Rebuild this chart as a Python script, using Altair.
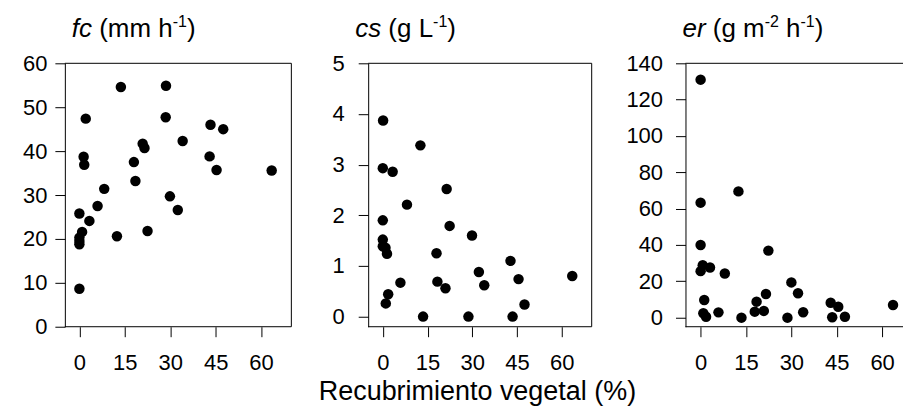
import altair as alt
import pandas as pd

# ---------------- data ----------------
fc_x = [13.7, 28.6, 2.1, 28.5, 43.3, 47.5, 34.1, 20.9, 21.5, 1.4, 1.6, 43.0, 18.0, 45.3,
        63.5, 18.5, 8.2, 29.9, 6.0, 32.5, 0.0, 3.3, 22.5, 0.9, 12.4, 0.0, 0.0, 0.0, 0.0]
fc_y = [54.6, 54.9, 47.4, 47.7, 46.0, 45.0, 42.3, 41.7, 40.7, 38.7, 36.9, 38.8, 37.5, 35.7,
        35.6, 33.2, 31.4, 29.7, 27.5, 26.6, 25.8, 24.1, 21.8, 21.6, 20.6, 20.3, 19.5, 18.8, 8.65]

cs_x = [0.1, 12.6, 0.0, 3.3, 21.4, 8.1, 0.0, 22.4, 29.9, 0.0, 0.0, 0.9, 1.4, 18.0, 42.8,
        32.2, 63.5, 45.5, 5.9, 18.3, 21.0, 34.0, 1.8, 1.0, 47.5, 13.5, 28.7, 43.5]
cs_y = [3.87, 3.38, 2.93, 2.86, 2.52, 2.21, 1.90, 1.79, 1.60, 1.52, 1.39, 1.36, 1.24, 1.25,
        1.10, 0.88, 0.80, 0.74, 0.67, 0.69, 0.56, 0.62, 0.44, 0.26, 0.24, 0.0, 0.0, 0.0]

er_x = [0.0, 12.5, 0.0, 0.0, 22.4, 0.7, 0.0, 3.1, 8.0, 1.2, 0.9, 1.8, 5.9, 13.5, 18.5,
        17.9, 20.9, 21.6, 28.7, 30.0, 32.2, 33.9, 43.0, 45.5, 43.5, 47.7, 63.6]
er_y = [131.0, 69.5, 63.3, 40.0, 36.9, 28.9, 25.6, 27.6, 24.3, 9.7, 2.4, 0.5, 2.9, 0.0, 8.8,
        3.3, 3.7, 13.0, 0.0, 19.4, 13.4, 3.0, 8.2, 6.0, 0.2, 0.5, 7.0]

x_ticks = [0, 15, 30, 45, 60]
fc_ticks = [0, 10, 20, 30, 40, 50, 60]
cs_ticks = [0, 1, 2, 3, 4, 5]
er_ticks = [0, 20, 40, 60, 80, 100, 120, 140]

x_title = "Recubrimiento vegetal (%)"
fc_title = [("fc", "italic"), (" (mm h", "normal"), ("-1", "sup"), (")", "normal")]
cs_title = [("cs", "italic"), (" (g L", "normal"), ("-1", "sup"), (")", "normal")]
er_title = [("er", "italic"), (" (g m", "normal"), ("-2", "sup"), (" h", "normal"),
            ("-1", "sup"), (")", "normal")]

# ---------------- styling ----------------
FONT = "Liberation Sans"
LAB = 22      # tick labels
TFS = 26      # panel titles
SUP = 16      # superscripts
XFS = 27      # x axis title
H = 264
ADV = {'f': 278, 'c': 500, 's': 500, 'e': 556, 'r': 333, ' ': 278, '(': 333, ')': 333,
       'm': 833, 'h': 556, 'g': 556, 'L': 556, '-': 333, '1': 556, '2': 556}


def text_width(s, size):
    return sum(ADV.get(ch, 556) for ch in s) * size / 1000.0


def title_layers(parts, x0, y0=-26):
    one = pd.DataFrame({"k": [0]})
    layers = []
    x = x0
    for txt, style in parts:
        size = SUP if style == "sup" else TFS
        dy = -10 if style == "sup" else 0
        lead = len(txt) - len(txt.lstrip(" "))
        x += text_width(" " * lead, size)
        body = txt.lstrip(" ")
        layers.append(
            alt.Chart(one).mark_text(
                text=body, font=FONT, fontSize=size, align="left", baseline="alphabetic",
                fontStyle="italic" if style == "italic" else "normal", color="black"
            ).encode(x=alt.value(x), y=alt.value(y0 + dy))
        )
        x += text_width(body, size)
    return layers


def panel(xs, ys, xdom, ydom, yticks, width, frame_w, parts, title_x, label_pad,
          right_frame=True, xtitle=None):
    df = pd.DataFrame({"x": xs, "y": ys})
    common = dict(values=x_ticks, tickSize=10, tickColor="black", domain=False, grid=False,
                  labelFont=FONT, labelFontSize=LAB, labelColor="black", labelPadding=16,
                  labelFlush=False)
    if xtitle:
        xaxis = alt.Axis(title=xtitle, titleFont=FONT, titleFontSize=XFS,
                         titleFontWeight="normal", titleColor="black", titleX=109, titleY=73,
                         titleAlign="center", titleBaseline="alphabetic", titleAnchor="start",
                         **common)
    else:
        xaxis = alt.Axis(title=None, **common)
    yaxis = alt.Axis(values=yticks, tickSize=10, tickColor="black", domain=True,
                     domainColor="black", grid=False, labelFont=FONT, labelFontSize=LAB,
                     labelColor="black", labelPadding=label_pad, title=None, labelFlush=False)
    pts = alt.Chart(df).mark_circle(size=110, color="black", opacity=1).encode(
        x=alt.X("x:Q", scale=alt.Scale(domain=xdom, nice=False, zero=False), axis=xaxis),
        y=alt.Y("y:Q", scale=alt.Scale(domain=ydom, nice=False, zero=False), axis=yaxis),
    )
    one = pd.DataFrame({"k": [0]})
    frame = [
        alt.Chart(one).mark_rule(color="black", strokeWidth=1).encode(
            x=alt.value(0), x2=alt.value(frame_w), y=alt.value(0)),
        alt.Chart(one).mark_rule(color="black", strokeWidth=1).encode(
            x=alt.value(0), x2=alt.value(frame_w), y=alt.value(H)),
    ]
    if right_frame:
        frame.append(alt.Chart(one).mark_rule(color="black", strokeWidth=1).encode(
            x=alt.value(frame_w), y=alt.value(0), y2=alt.value(H)))
    return alt.layer(pts, *frame, *title_layers(parts, title_x)).properties(
        width=width, height=H)


# panel 2 plot area is wider than its frame so that equal spacing lands every frame
p1 = panel(fc_x, fc_y, [-4.8, 70], [0, 60], fc_ticks, 227, 227, fc_title, 7, 8)
p2 = panel(cs_x, cs_y, [-4.9, 75.7], [-0.2, 5], cs_ticks, 241, 224, cs_title, -13, 14,
           xtitle=x_title)
p3 = panel(er_x, er_y, [-5, 66.9], [-5, 140], er_ticks, 218, 218, er_title, -3, 13,
           right_frame=False)

chart = alt.hconcat(p1, p2, p3, spacing=77, bounds="flush").properties(
    padding={"left": 22, "top": 13, "right": 0, "bottom": 0},
).configure(background="white", view=alt.ViewConfig(stroke="transparent"))

chart.save("out.html", embed_options={"renderer": "svg", "actions": False})
